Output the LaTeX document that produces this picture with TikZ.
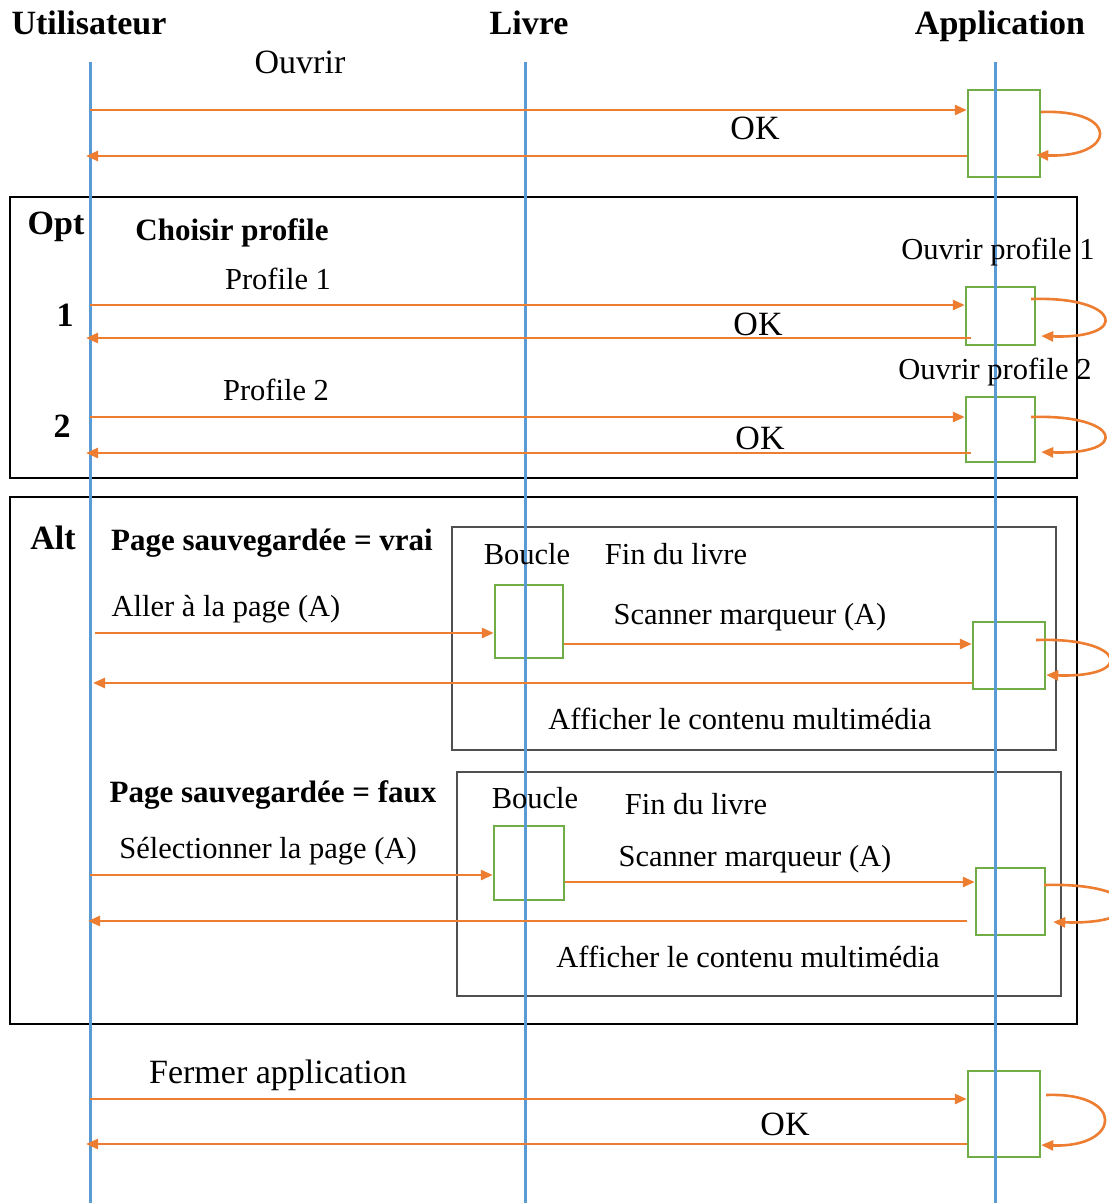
\documentclass[tikz,border=0pt]{standalone}
\usepackage{fontspec}
\setmainfont{Liberation Serif}
\usetikzlibrary{arrows.meta}
\definecolor{lblue}{RGB}{91,155,213}
\definecolor{myorange}{RGB}{237,125,49}
\definecolor{mygreen}{RGB}{112,173,71}
\definecolor{framegray}{RGB}{80,80,80}
\begin{document}
\begin{tikzpicture}[x=1pt,y=-1pt,
  lifeline/.style={draw=lblue, line width=3pt},
  act/.style={draw=mygreen, line width=2.4pt, inner sep=0pt},
  msg/.style={draw=myorange, line width=2.6pt, -{Triangle[length=12pt,width=10pt]}},
  txt/.style={inner sep=0pt, text height=26pt, text depth=4pt},
  hdr/.style={txt, font=\fontsize{34}{36}\selectfont\bfseries},
  lbl/.style={txt, font=\fontsize{30.5}{32}\selectfont},
  biglbl/.style={txt, font=\fontsize{34}{36}\selectfont},
  blbl/.style={txt, font=\fontsize{31}{33}\selectfont\bfseries},
  outerframe/.style={draw=black, line width=2.2pt},
  innerframe/.style={draw=framegray, line width=1.8pt}]
\useasboundingbox (0,0) rectangle (1109,1203);

% headers
\node[hdr] (hU) at (89,23) {Utilisateur};
\node[hdr] (hL) at (529,23) {Livre};
\node[hdr] (hA) at (1000,23) {Application};

% frames
\draw[outerframe] (10,197) rectangle (1077,478);
\draw[outerframe] (10,497) rectangle (1077,1024);
\draw[innerframe] (452,527) rectangle (1056,750);
\draw[innerframe] (457,772) rectangle (1061,996);

% activation boxes
\node[act, minimum width=72, minimum height=87] (a1) at (1004,133.5) {};
\node[act, minimum width=69, minimum height=58] (a2) at (1000.5,316) {};
\node[act, minimum width=69, minimum height=65] (a3) at (1000.5,429.5) {};
\node[act, minimum width=68, minimum height=73] (l4) at (529,621.5) {};
\node[act, minimum width=72, minimum height=67] (a4) at (1009,655.5) {};
\node[act, minimum width=70, minimum height=74] (l5) at (529,863) {};
\node[act, minimum width=69, minimum height=67] (a5) at (1010.5,901.5) {};
\node[act, minimum width=72, minimum height=86] (a6) at (1004,1114) {};

% lifelines
\coordinate (uTop) at (90,62);   \coordinate (uBot) at (90,1203);
\coordinate (lTop) at (525,62);  \coordinate (lBot) at (525,1203);
\coordinate (aTop) at (995,62);  \coordinate (aBot) at (995,1203);
\draw[lifeline] (uTop) -- (uBot);
\draw[lifeline] (lTop) -- (lBot);
\draw[lifeline] (aTop) -- (aBot);

% labels
\node[biglbl] (tOuvrir) at (300,62) {Ouvrir};
\node[biglbl] (tOK1) at (755,128) {OK};
\node[hdr] (tOpt) at (56,223) {Opt};
\node[blbl] (tChoisir) at (232,229) {Choisir profile};
\node[lbl] (tOP1) at (998,248) {Ouvrir profile 1};
\node[lbl] (tP1) at (278,278) {Profile 1};
\node[hdr] (t1) at (65,315) {1};
\node[biglbl] (tOK2) at (758,324) {OK};
\node[lbl] (tOP2) at (995,368) {Ouvrir profile 2};
\node[lbl] (tP2) at (276,389) {Profile 2};
\node[hdr] (t2) at (62,426) {2};
\node[biglbl] (tOK3) at (760,438) {OK};
\node[hdr] (tAlt) at (53,538) {Alt};
\node[blbl] (tVrai) at (272,539) {Page sauvegardée = vrai};
\node[lbl] (tB1) at (527,553) {Boucle};
\node[lbl] (tF1) at (676,553) {Fin du livre};
\node[lbl] (tAller) at (226,605) {Aller à la page (A)};
\node[lbl] (tS1) at (750,613) {Scanner marqueur (A)};
\node[lbl] (tAff1) at (740,718) {Afficher le contenu multimédia};
\node[blbl] (tFaux) at (273,791) {Page sauvegardée = faux};
\node[lbl] (tB2) at (535,797) {Boucle};
\node[lbl] (tF2) at (696,803) {Fin du livre};
\node[lbl] (tSel) at (268,847) {Sélectionner la page (A)};
\node[lbl] (tS2) at (755,855) {Scanner marqueur (A)};
\node[lbl] (tAff2) at (748,956) {Afficher le contenu multimédia};
\node[biglbl] (tFermer) at (278,1072) {Fermer application};
\node[biglbl] (tOK4) at (785,1124) {OK};

% messages
\coordinate (m1) at (90,110);
\draw[msg] (m1) -- (m1 -| a1.west);
\draw[msg] ([yshift=21.5pt]a1.east) .. controls +(80,-3) and +(80,3) .. ([yshift=-21.5pt,xshift=-5pt]a1.east);
\coordinate (r1) at (86,156);
\draw[msg] (r1 -| a1.west) -- (r1);

\coordinate (m2) at (90,305);
\draw[msg] (m2) -- (m2 -| a2.west);
\draw[msg] ([yshift=17pt,xshift=-5pt]a2.east) .. controls +(90,-3) and +(90,3) .. ([yshift=-20pt,xshift=5pt]a2.east);
\coordinate (r2) at (86,338);
\draw[msg] ([xshift=6pt]r2 -| a2.west) -- (r2);

\coordinate (m3) at (90,417);
\draw[msg] (m3) -- (m3 -| a3.west);
\draw[msg] ([yshift=12.5pt,xshift=-5pt]a3.east) .. controls +(90,-3) and +(90,3) .. ([yshift=-22.5pt,xshift=5pt]a3.east);
\coordinate (r3) at (86,453);
\draw[msg] ([xshift=6pt]r3 -| a3.west) -- (r3);

\coordinate (m4) at (95,633);
\draw[msg] (m4) -- (m4 -| l4.west);
\coordinate (m4b) at (563,644);
\draw[msg] (m4b -| l4.east) -- (m4b -| a4.west);
\draw[msg] ([yshift=15.5pt,xshift=-10pt]a4.east) .. controls +(90,-3) and +(90,3) .. ([yshift=-19.5pt]a4.east);
\coordinate (r4) at (93,683);
\draw[msg] (r4 -| a4.west) -- (r4);

\coordinate (m5) at (90,875);
\draw[msg] (m5) -- (m5 -| l5.west);
\coordinate (m5b) at (564,882);
\draw[msg] (m5b -| l5.east) -- (m5b -| a5.west);
\draw[msg] ([yshift=16.5pt,xshift=-2pt]a5.east) .. controls +(100,-3) and +(100,3) .. ([yshift=-20.5pt,xshift=7pt]a5.east);
\coordinate (r5) at (88,921);
\draw[msg] ([xshift=-8pt]r5 -| a5.west) -- (r5);

\coordinate (m6) at (90,1099);
\draw[msg] (m6) -- (m6 -| a6.west);
\draw[msg] ([yshift=19pt,xshift=5pt]a6.east) .. controls +(80,-3) and +(80,3) .. ([yshift=-31pt]a6.east);
\coordinate (r6) at (86,1144);
\draw[msg] (r6 -| a6.west) -- (r6);
\end{tikzpicture}
\end{document}
